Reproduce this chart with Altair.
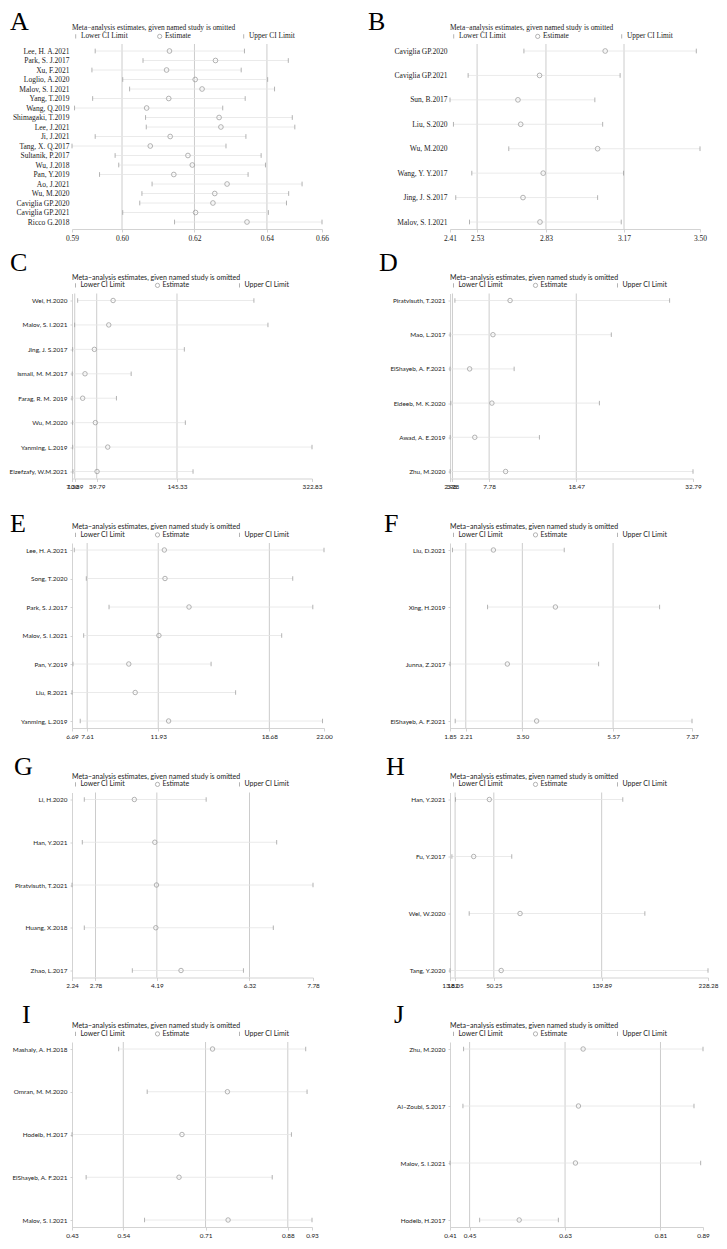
import altair as alt
import pandas as pd

# ---------------- data ----------------
A_studies = ["Lee, H. A.2021", "Park, S. J.2017", "Xu, F.2021", "Loglio, A.2020", "Malov, S. I.2021",
             "Yang, T.2019", "Wang, Q.2019", "Shimagaki, T.2019", "Lee, J.2021", "Ji, J.2021",
             "Tang, X. Q.2017", "Sultanik, P.2017", "Wu, J.2018", "Pan, Y.2019", "Ao, J.2021",
             "Wu, M.2020", "Caviglia GP.2020", "Caviglia GP.2021", "Ricco G.2018"]
A_lower = [0.5926, 0.6058, 0.5917, 0.6002, 0.6021, 0.5919, 0.5869, 0.6065, 0.6067, 0.5926,
           0.5862, 0.5981, 0.5991, 0.5938, 0.6083, 0.6055, 0.6049, 0.6002, 0.6145]
A_est = [0.6131, 0.6258, 0.6123, 0.6202, 0.6221, 0.6129, 0.6068, 0.6268, 0.6273, 0.6133,
         0.6078, 0.6182, 0.6194, 0.6143, 0.6290, 0.6256, 0.6251, 0.6203, 0.6345]
A_upper = [0.6338, 0.6459, 0.6329, 0.6402, 0.6421, 0.6340, 0.6278, 0.6470, 0.6477, 0.6342,
           0.6287, 0.6384, 0.6396, 0.6348, 0.6497, 0.6460, 0.6454, 0.6404, 0.6552]
A_overall = [0.60, 0.62, 0.64]

B_studies = ["Caviglia GP.2020", "Caviglia GP.2021", "Sun, B.2017", "Liu, S.2020", "Wu, M.2020",
             "Wang, Y. Y.2017", "Jing, J. S.2017", "Malov, S. I.2021"]
B_lower = [2.734, 2.491, 2.412, 2.427, 2.668, 2.507, 2.437, 2.497]
B_est = [3.088, 2.802, 2.708, 2.720, 3.055, 2.818, 2.730, 2.804]
B_upper = [3.485, 3.153, 3.043, 3.077, 3.501, 3.168, 3.055, 3.158]
B_overall = [2.53, 2.83, 3.17]

C_studies = ["Wei, H.2020", "Malov, S. I.2021", "Jing, J. S.2017", "Ismail, M. M.2017",
             "Farag, R. M. 2019", "Wu, M.2020", "Yanming, L.2019", "Elzefzafy, W.M.2021"]
C_lower = [14.72, 10.77, 8.13, 7.60, 7.30, 8.13, 8.20, 8.57]
C_est = [61.34, 55.62, 36.71, 24.40, 21.32, 38.03, 54.30, 40.23]
C_upper = [246.47, 264.94, 155.00, 85.08, 65.73, 156.32, 322.83, 166.44]
C_overall = [10.89, 39.79, 145.33]

D_studies = ["Piratvisuth, T.2021", "Mao, L.2017", "ElShayeb, A. F.2021", "Eldeeb, M. K.2020",
             "Awad, A. E.2019", "Zhu, M.2020"]
D_lower = [3.58, 3.00, 2.98, 3.08, 3.00, 2.99]
D_est = [10.35, 8.25, 5.39, 8.12, 6.02, 9.80]
D_upper = [29.92, 22.77, 10.85, 21.31, 13.95, 32.79]
D_overall = [3.28, 7.78, 18.47]

E_studies = ["Lee, H. A.2021", "Song, T.2020", "Park, S. J.2017", "Malov, S. I.2021",
             "Pan, Y.2019", "Liu, R.2021", "Yanming, L.2019"]
E_lower = [6.83, 7.56, 8.94, 7.40, 6.75, 6.69, 7.19]
E_est = [12.30, 12.34, 13.80, 11.97, 10.14, 10.53, 12.56]
E_upper = [22.00, 20.10, 21.32, 19.43, 15.14, 16.63, 21.91]
E_overall = [7.61, 11.93, 18.68]

F_studies = ["Liu, D.2021", "Xing, H.2019", "Junna, Z.2017", "ElShayeb, A. F.2021"]
F_lower = [1.907, 2.707, 1.85, 1.969]
F_est = [2.840, 4.254, 3.158, 3.826]
F_upper = [4.456, 6.631, 5.240, 7.37]
F_overall = [2.21, 3.50, 5.57]

G_studies = ["Li, H.2020", "Han, Y.2021", "Piratvisuth, T.2021", "Huang, X.2018", "Zhao, L.2017"]
G_lower = [2.523, 2.477, 2.24, 2.523, 3.627]
G_est = [3.673, 4.144, 4.182, 4.167, 4.746]
G_upper = [5.324, 6.945, 7.78, 6.868, 6.181]
G_overall = [2.78, 4.19, 6.32]

H_studies = ["Han, Y.2021", "Fu, Y.2017", "Wei, W.2020", "Tang, Y.2020"]
H_lower = [18.40, 15.40, 29.77, 13.82]
H_est = [46.53, 33.49, 72.06, 56.37]
H_upper = [157.45, 65.15, 175.80, 228.28]
H_overall = [18.05, 50.25, 139.89]

I_studies = ["Mashaly, A. H.2018", "Omran, M. M.2020", "Hodeib, H.2017", "ElShayeb, A. F.2021",
             "Malov, S. I.2021"]
I_lower = [0.5304, 0.5894, 0.434, 0.4632, 0.5839]
I_est = [0.7244, 0.7552, 0.6613, 0.6552, 0.7566]
I_upper = [0.9170, 0.9198, 0.8875, 0.8478, 0.9300]
I_overall = [0.54, 0.71, 0.88]

J_studies = ["Zhu, M.2020", "Al\u2212Zoubi, S.2017", "Malov, S. I.2021", "Hodeib, H.2017"]
J_lower = [0.4386, 0.4374, 0.413, 0.4689]
J_est = [0.6641, 0.6553, 0.6496, 0.5435]
J_upper = [0.8902, 0.8732, 0.8858, 0.6174]
J_overall = [0.45, 0.63, 0.81]

KINDS = ["Lower CI Limit", "Estimate", "Upper CI Limit"]
LEGEND_TITLE = "Meta\u2212analysis estimates, given named study is omitted"

# ---------------- styling ----------------
VBAR = "M0,-1L0,1"
PLOT_H = 185
SERIF = "Liberation Serif"
SANS = "Lato"


def make_panel(letter, studies, lower, est, upper, overall, width, letter_dx, letter_dy, serif):
    font = SERIF if serif else SANS
    yfs = 7.5 if serif else 6.4        # study labels
    tfs = 7.5 if serif else 6.4        # tick labels
    lfs = 7.4 if serif else 7.0        # legend text
    n = len(studies)
    gap = 7
    step = (PLOT_H - 2 * gap) / (n - 1)
    pad = gap / step
    xmin = min(lower)
    xmax = max(upper)
    tick_vals = [xmin] + list(overall) + [xmax]

    xscale = alt.Scale(domain=[xmin, xmax], nice=False, zero=False)
    yscale = alt.Scale(type="point", padding=pad, domain=studies)
    xaxis = alt.Axis(values=tick_vals, format=".2f", title=None, grid=False,
                     labelOverlap=False, labelFlush=False, labelFont=font, labelFontSize=tfs,
                     labelColor="#222222", labelPadding=2, tickSize=3, tickColor="#c8c8c8",
                     tickWidth=0.8, domainColor="#c8c8c8", domainWidth=0.8)
    yaxis = alt.Axis(title=None, grid=False, labelFont=font, labelFontSize=yfs,
                     labelColor="#222222", labelPadding=3, tickSize=2, tickColor="#c8c8c8",
                     tickWidth=0.8, domain=not serif, ticks=not serif,
                     domainColor="#c8c8c8", domainWidth=0.8)

    seg = pd.DataFrame({"study": studies, "lower": lower, "upper": upper})
    long = pd.DataFrame({
        "study": list(studies) * 3,
        "kind": [KINDS[0]] * n + [KINDS[1]] * n + [KINDS[2]] * n,
        "value": list(lower) + list(est) + list(upper),
    })
    ref = pd.DataFrame({"value": list(overall)})

    refs = alt.Chart(ref).mark_rule(color="#cccccc", strokeWidth=1).encode(
        x=alt.X("value:Q", scale=xscale, axis=xaxis)
    )
    rows = alt.Chart(seg).mark_rule(color="#e4e4e4", strokeWidth=0.8).encode(
        x=alt.X("lower:Q", scale=xscale, axis=xaxis),
        x2="upper:Q",
        y=alt.Y("study:N", scale=yscale, axis=yaxis),
    )
    legend = alt.Legend(
        orient="none", legendX=0, legendY=-20, direction="horizontal", columns=3,
        gridAlign="all", columnPadding=27, padding=0, rowPadding=0,
        title=LEGEND_TITLE, titleFont=font, titleFontSize=lfs, titleFontWeight="normal",
        titleColor="#222222", titlePadding=1, titleAnchor="start", titleLimit=400,
        labelFont=font, labelFontSize=lfs, labelColor="#222222", labelOffset=1.5,
        symbolSize=18, symbolStrokeWidth=0.8, symbolStrokeColor="#a0a0a0",
        symbolFillColor="transparent",
    )
    pts = alt.Chart(long).mark_point(filled=False, size=22 if serif else 20, strokeWidth=0.8,
                                     color="#a0a0a0", opacity=1).encode(
        x=alt.X("value:Q", scale=xscale, axis=xaxis),
        y=alt.Y("study:N", scale=yscale, axis=yaxis),
        shape=alt.Shape("kind:N", scale=alt.Scale(domain=KINDS, range=[VBAR, "circle", VBAR]),
                        legend=legend),
    )
    title = alt.TitleParams(letter, anchor="start", frame="group", font=SERIF, fontSize=26,
                            fontWeight="normal", color="#000000", dx=letter_dx, dy=letter_dy,
                            offset=0)
    return alt.layer(refs, rows, pts).properties(width=width, height=PLOT_H, title=title)


panels = [
    make_panel("A", A_studies, A_lower, A_est, A_upper, A_overall, 250, -62, 11, True),
    make_panel("B", B_studies, B_lower, B_est, B_upper, B_overall, 250, -82, 11, True),
    make_panel("C", C_studies, C_lower, C_est, C_upper, C_overall, 240, -62, 2, False),
    make_panel("D", D_studies, D_lower, D_est, D_upper, D_overall, 243, -71, 2, False),
    make_panel("E", E_studies, E_lower, E_est, E_upper, E_overall, 252, -62, 14, False),
    make_panel("F", F_studies, F_lower, F_est, F_upper, F_overall, 242, -66, 14, False),
    make_panel("G", G_studies, G_lower, G_est, G_upper, G_overall, 241, -58, 7, False),
    make_panel("H", H_studies, H_lower, H_est, H_upper, H_overall, 258, -64, 7, False),
    make_panel("I", I_studies, I_lower, I_est, I_upper, I_overall, 240, -50, 6, False),
    make_panel("J", J_studies, J_lower, J_est, J_upper, J_overall, 253, -56, 6, False),
]

chart = (
    alt.concat(*panels, columns=2, spacing={"row": 64.5, "column": 126}, bounds="flush")
    .resolve_scale(shape="independent", x="independent", y="independent")
    .resolve_legend(shape="independent")
    .properties(padding={"top": 1, "left": 0, "right": 0, "bottom": 0})
    .configure_view(strokeOpacity=0)
)

chart.save("out.html", embed_options={"renderer": "svg", "actions": False})
